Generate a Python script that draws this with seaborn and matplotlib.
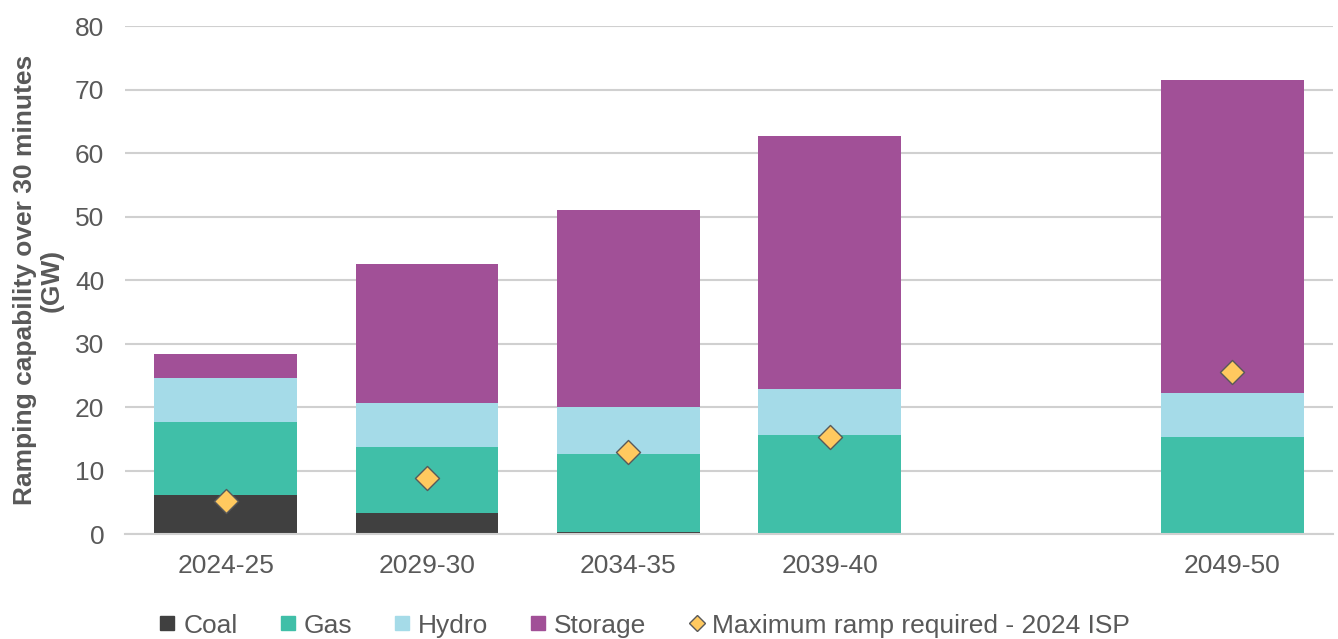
import matplotlib
matplotlib.use('Agg')
import matplotlib.pyplot as plt
from matplotlib.lines import Line2D
import numpy as np
import pandas as pd
import seaborn as sns

# Financial years (the 2044-45 slot is left empty in the chart)
YEARS = ['2024-25', '2029-30', '2034-35', '2039-40', '2044-45', '2049-50']
TICK_LABELS = ['2024-25', '2029-30', '2034-35', '2039-40', '', '2049-50']

# Ramping capability over 30 minutes (GW), per technology
COAL = [6.2, 3.4, 0.3, 0.0, 0.0, 0.0]
GAS = [11.5, 10.4, 12.4, 15.6, 0.0, 15.3]
HYDRO = [6.9, 6.9, 7.3, 7.3, 0.0, 6.9]
STORAGE = [3.8, 21.8, 31.1, 39.8, 0.0, 49.4]
MAX_RAMP = [5.2, 8.8, 13.0, 15.3, np.nan, 25.5]

SERIES = ['Coal', 'Gas', 'Hydro', 'Storage']
COLOURS = ['#404040', '#40BFA8', '#A5DBE8', '#A15097']
DIAMOND = '#FFC95F'
GREY = '#595959'

sns.set_theme(style='white')
plt.rcParams['font.family'] = ['Liberation Sans', 'DejaVu Sans']

df = pd.DataFrame({'year': YEARS, 'Coal': COAL, 'Gas': GAS,
                   'Hydro': HYDRO, 'Storage': STORAGE, 'ramp': MAX_RAMP})

fig = plt.figure(figsize=(13.38, 6.39), dpi=100)
ax = fig.add_axes([0.0934, 0.164, 0.9029, 0.795])

# stacked bars, one seaborn layer per technology
bottom = np.zeros(len(YEARS))
for name, col in zip(SERIES, COLOURS):
    sns.barplot(data=df, x='year', y=name, order=YEARS, color=col,
                bottom=bottom, width=0.71, linewidth=0, saturation=1, ax=ax)
    bottom = bottom + df[name].values

sns.scatterplot(data=df, x='year', y='ramp', marker='D', s=150,
                color=DIAMOND, edgecolor=GREY, linewidth=1.0, zorder=5, ax=ax)

ax.set_ylim(0, 80)
ax.set_xlim(-0.5, len(YEARS) - 0.5)
ax.set_yticks(range(0, 81, 10))
ax.set_xticks(range(len(YEARS)))
ax.set_xticklabels(TICK_LABELS)
ax.yaxis.grid(True, color='#D0D0D0', linewidth=1.5)
ax.set_axisbelow(True)
for s in ['top', 'right', 'left']:
    ax.spines[s].set_visible(False)
ax.spines['bottom'].set_color('#D0D0D0')
ax.spines['bottom'].set_linewidth(1.5)
ax.tick_params(axis='both', length=0, labelsize=19, colors=GREY)
ax.tick_params(axis='x', pad=14)
ax.tick_params(axis='y', pad=15)
ax.set_xlabel('')
ax.set_ylabel('Ramping capability over 30 minutes\n(GW)', fontsize=19,
              fontweight='bold', color=GREY, labelpad=8, linespacing=1.15)

handles = [Line2D([], [], marker='s', linestyle='none', markersize=10,
                  markerfacecolor=c, markeredgecolor=c) for c in COLOURS]
handles.append(Line2D([], [], marker='D', linestyle='none', markersize=8,
                      markerfacecolor=DIAMOND, markeredgecolor=GREY))
labels = SERIES + ['Maximum ramp required - 2024 ISP']
leg = fig.legend(handles, labels, loc='lower center', bbox_to_anchor=(0.482, -0.035),
                 ncol=5, frameon=False, fontsize=19, handlelength=0.6,
                 handletextpad=0.3, columnspacing=1.6)
for t in leg.get_texts():
    t.set_color(GREY)

fig.savefig('out.png', dpi=100)
